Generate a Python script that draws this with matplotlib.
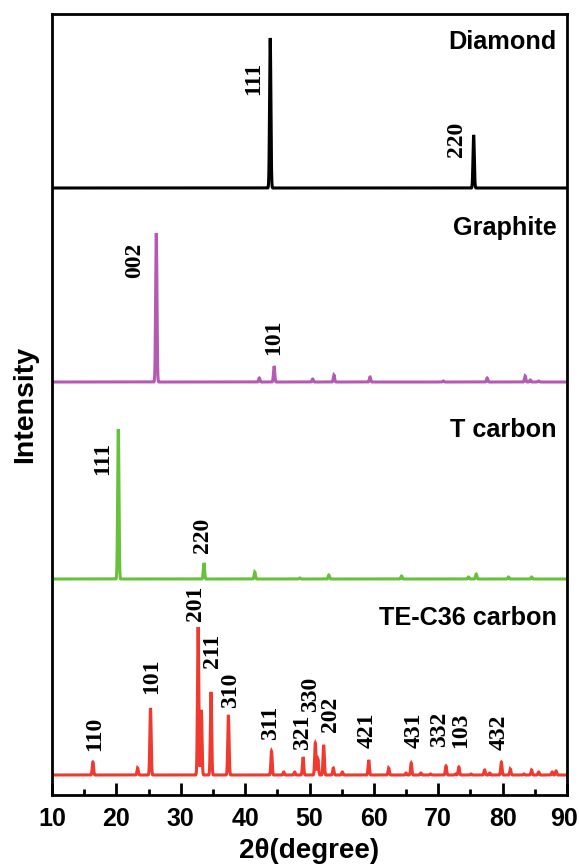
import numpy as np
import matplotlib
matplotlib.use("Agg")
import matplotlib.pyplot as plt
import matplotlib.transforms as mtransforms

# ---------------- data ----------------
diamond_pos = [43.9, 75.5]
diamond_int = [150, 53]
diamond_hkl = ["111", "220"]

graphite_pos = [26.2, 42.2, 44.5, 50.5, 53.8, 59.4, 70.8, 77.6, 83.5, 84.3, 85.6]
graphite_int = [149, 4, 16, 3, 7, 5, 1, 4, 6, 2, 1]
graphite_hkl = ["002", "101"]

tcarbon_pos = [20.3, 33.6, 41.5, 48.5, 53.0, 64.3, 74.7, 75.9, 80.9, 84.5]
tcarbon_int = [150, 16, 7, 1, 4, 3, 2, 5, 2, 2]
tcarbon_hkl = ["111", "220"]

te_pos = [16.35, 23.3, 25.3, 32.7, 33.2, 34.7, 37.4, 44.1, 46.0, 47.7, 49.0,
          50.9, 51.3, 52.2, 53.7, 55.1, 59.2, 62.3, 65.0, 65.8, 67.3, 68.8,
          71.2, 72.7, 73.2, 75.1, 77.2, 78.0, 79.8, 81.2, 83.3, 84.5, 85.6,
          87.7, 88.3]
te_int = [13, 7, 67, 148, 65, 83, 60, 24, 3, 3, 18,
          32, 16, 30, 7, 3, 15, 7, 2, 12, 2, 1,
          9, 1, 8, 1, 5, 2, 13, 6, 1, 5, 3,
          3, 4]
te_hkl = ["110", "101", "201", "211", "310", "311", "321", "330", "202",
          "421", "431", "332", "103", "432"]

names = ["Diamond", "Graphite", "T carbon", "TE-C36 carbon"]
xticks = [10, 20, 30, 40, 50, 60, 70, 80, 90]

# ---------------- layout / style ----------------
W, H = 579, 868
fig = plt.figure(figsize=(W / 100, H / 100), dpi=100)
ax = fig.add_axes([52 / W, 1 - 795 / H, (567 - 52) / W, (795 - 14) / H])
ax.set_xlim(10, 90)
ax.set_ylim(0, 781)

offsets = [607, 413, 216, 20]
colors = ["black", "#b45ab4", "#66c23a", "#f03a30"]
x = np.linspace(10, 90, 8001)
sigma = 0.1


def profile(pos, inten):
    y = np.zeros_like(x)
    for p, h in zip(pos, inten):
        y += h * np.exp(-0.5 * ((x - p) / sigma) ** 2)
    return y


series = [(diamond_pos, diamond_int), (graphite_pos, graphite_int),
          (tcarbon_pos, tcarbon_int), (te_pos, te_int)]
for (pos, inten), off, c in zip(series, offsets, colors):
    ax.plot(x, profile(pos, inten) + off, color=c, lw=2.2, solid_joinstyle="miter")

# hkl labels (x, bottom y in axis units)
lab_font = dict(family="Liberation Serif", weight="bold", fontsize=17,
                rotation=90, ha="center", va="bottom")
diamond_lab_xy = [(41.3, 700), (72.9, 638)]
graphite_lab_xy = [(22.9, 517), (44.4, 440)]
tcarbon_lab_xy = [(17.8, 320), (33.4, 242)]
te_lab_xy = [(16.6, 44), (25.4, 101), (32.3, 174), (35.0, 127), (37.7, 87),
             (43.9, 55), (48.9, 45), (50.2, 83), (53.2, 63), (59.0, 47),
             (66.2, 47), (70.2, 48), (73.4, 47), (79.4, 45)]
for labs, xy in [(diamond_hkl, diamond_lab_xy), (graphite_hkl, graphite_lab_xy),
                 (tcarbon_hkl, tcarbon_lab_xy), (te_hkl, te_lab_xy)]:
    for t, (lx, ly) in zip(labs, xy):
        ax.text(lx, ly, t, **lab_font)

# sample names
name_y = [753, 567, 365, 177]
for n, ny in zip(names, name_y):
    ax.text(88.4, ny, n, ha="right", va="center", family="Liberation Sans",
            weight="bold", fontsize=18.2)

# axes styling
for s in ax.spines.values():
    s.set_linewidth(2)
ax.set_xticks(xticks)
ax.set_xticks(np.arange(15, 90, 10), minor=True)
ax.set_yticks([])
ax.tick_params(axis="x", which="major", direction="in", length=9, width=2,
               pad=9, top=False)
ax.tick_params(axis="x", which="minor", direction="in", length=4.5, width=2,
               top=False)
for lbl in ax.get_xticklabels():
    lbl.set_family("Liberation Sans")
    lbl.set_fontweight("bold")
    lbl.set_fontsize(18)

# keep the last tick label inside the canvas
last = ax.xaxis.get_major_ticks()[-1].label1
last.set_transform(last.get_transform() +
                   mtransforms.ScaledTranslation(-3 / 100, 0, fig.dpi_scale_trans))

ax.set_xlabel("2θ(degree)", family="Liberation Sans", fontweight="bold",
              fontsize=20, labelpad=5)
ax.set_ylabel("Intensity", family="Liberation Sans", fontweight="bold",
              fontsize=20.5, labelpad=10)

fig.savefig("out.png", dpi=100)
